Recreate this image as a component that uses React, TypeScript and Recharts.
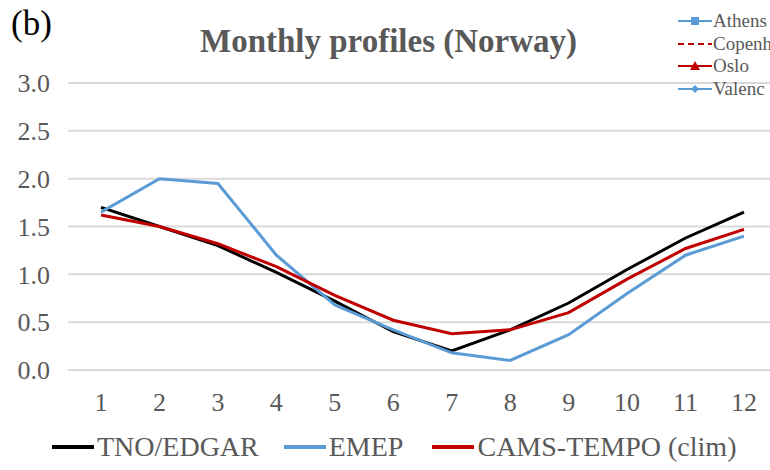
import {
  LineChart,
  Line,
  XAxis,
  YAxis,
  CartesianGrid,
} from 'recharts'

const months = ['1', '2', '3', '4', '5', '6', '7', '8', '9', '10', '11', '12']

const tnoEdgar = [1.7, 1.5, 1.3, 1.02, 0.72, 0.4, 0.2, 0.42, 0.7, 1.05, 1.38, 1.65]
const emep = [1.65, 2.0, 1.95, 1.2, 0.68, 0.42, 0.18, 0.1, 0.37, 0.8, 1.2, 1.4]
const camsTempo = [1.62, 1.5, 1.32, 1.08, 0.78, 0.52, 0.38, 0.42, 0.6, 0.95, 1.27, 1.47]

const yTicks = [0, 0.5, 1, 1.5, 2, 2.5, 3]

const cityNames = ['Athens', 'Copenh', 'Oslo', 'Valenc']

const serif = '"Liberation Serif", "Times New Roman", serif'
const grey = '#595959'

const series = [
  { key: 'TNO/EDGAR', color: '#000000', gap: 0 },
  { key: 'EMEP', color: '#5b9bd5', gap: 25 },
  { key: 'CAMS-TEMPO (clim)', color: '#c00000', gap: 29 },
]

const data = months.map((m, i) => ({
  month: m,
  'TNO/EDGAR': tnoEdgar[i],
  EMEP: emep[i],
  'CAMS-TEMPO (clim)': camsTempo[i],
}))

const CityMarker = ({ index }: { index: number }) => {
  const blue = '#5b9bd5'
  const red = '#c00000'
  if (index === 0) {
    return (
      <svg width={34} height={10}>
        <line x1={0} y1={5} x2={34} y2={5} stroke={blue} strokeWidth={2} />
        <rect x={13} y={1} width={8} height={8} fill={blue} />
      </svg>
    )
  }
  if (index === 1) {
    return (
      <svg width={34} height={10}>
        <line x1={0} y1={5} x2={34} y2={5} stroke={red} strokeWidth={2} strokeDasharray="6 4" />
      </svg>
    )
  }
  if (index === 2) {
    return (
      <svg width={34} height={10}>
        <line x1={0} y1={5} x2={34} y2={5} stroke={red} strokeWidth={2} />
        <polygon points="17,0 22,9 12,9" fill={red} />
      </svg>
    )
  }
  return (
    <svg width={34} height={10}>
      <line x1={0} y1={5} x2={34} y2={5} stroke={blue} strokeWidth={2} />
      <polygon points="17,1 21,5 17,9 13,5" fill={blue} />
    </svg>
  )
}

const App = () => {
  return (
    <div
      style={{
        position: 'absolute',
        left: 0,
        top: 0,
        width: 770,
        height: 470,
        background: '#ffffff',
        overflow: 'hidden',
      }}
    >
      <LineChart
        width={770}
        height={470}
        data={data}
        margin={{ top: 83, right: -3, left: 0, bottom: 70 }}
      >
        <CartesianGrid
          vertical={false}
          stroke="#d9d9d9"
          strokeWidth={2}
        />
        <XAxis
          dataKey="month"
          height={30}
          padding={{ left: 33, right: 29 }}
          axisLine={false}
          tickLine={false}
          tickSize={0}
          tickMargin={23}
          tick={{ fill: grey, fontSize: 26, fontFamily: serif }}
        />
        <YAxis
          width={68}
          domain={[0, 3]}
          ticks={yTicks}
          tickFormatter={(v: number) => v.toFixed(1)}
          axisLine={false}
          tickLine={false}
          tickSize={0}
          tickMargin={18}
          tick={{ fill: grey, fontSize: 26, fontFamily: serif }}
        />
        {series.map((s) => (
          <Line
            key={s.key}
            type="linear"
            dataKey={s.key}
            stroke={s.color}
            strokeWidth={3}
            dot={false}
            isAnimationActive={false}
          />
        ))}
      </LineChart>

      <div
        style={{
          position: 'absolute',
          left: 11,
          top: 4,
          fontFamily: serif,
          fontSize: 35,
          color: '#000000',
        }}
      >
        (b)
      </div>

      <div
        style={{
          position: 'absolute',
          left: 200,
          top: 23,
          fontFamily: serif,
          fontSize: 33,
          fontWeight: 'bold',
          color: grey,
          whiteSpace: 'nowrap',
        }}
      >
        Monthly profiles (Norway)
      </div>

      <div style={{ position: 'absolute', left: 678, top: 10 }}>
        {cityNames.map((name, i) => (
          <div
            key={name}
            style={{
              display: 'flex',
              alignItems: 'center',
              height: 22.5,
              whiteSpace: 'nowrap',
            }}
          >
            <CityMarker index={i} />
            <span
              style={{
                fontFamily: serif,
                fontSize: 19,
                color: grey,
                marginLeft: 1,
              }}
            >
              {name}
            </span>
          </div>
        ))}
      </div>

      <div
        style={{
          position: 'absolute',
          left: 52,
          top: 431,
          display: 'flex',
          alignItems: 'center',
          whiteSpace: 'nowrap',
        }}
      >
        {series.map((s) => (
          <div
            key={s.key}
            style={{ display: 'flex', alignItems: 'center', marginLeft: s.gap }}
          >
            <span
              style={{
                display: 'inline-block',
                width: 42,
                height: 4,
                background: s.color,
                marginRight: 3,
              }}
            />
            <span style={{ fontFamily: serif, fontSize: 28, color: grey }}>
              {s.key}
            </span>
          </div>
        ))}
      </div>
    </div>
  )
}

export default App
